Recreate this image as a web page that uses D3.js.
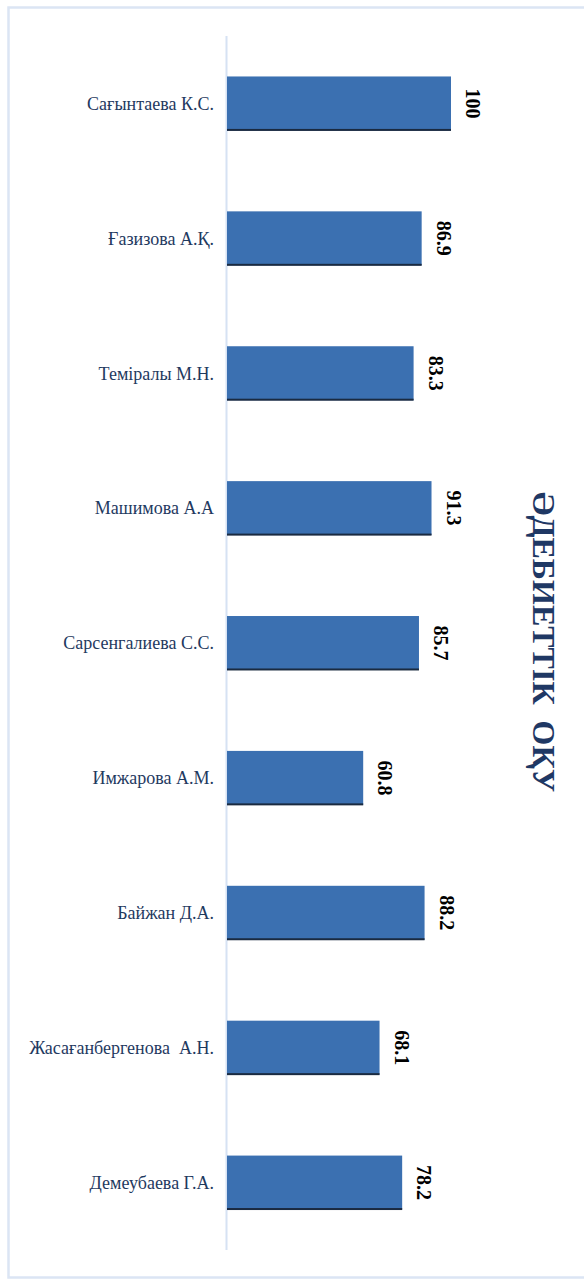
<!DOCTYPE html>
<html>
<head>
<meta charset="utf-8">
<script src="https://cdn.jsdelivr.net/npm/d3@7"></script>
<style>
  body { margin: 0; background: #fff; }
  svg { display: block; }
</style>
</head>
<body>
<svg id="chart"></svg>
<script>
// données : résultats "Әдебиеттік оқу"
const names = ["Сағынтаева К.С.", "Ғазизова А.Қ.", "Теміралы М.Н.", "Машимова А.А", "Сарсенгалиева С.С.", "Имжарова А.М.", "Байжан Д.А.", "Жасағанбергенова  А.Н.", "Демеубаева Г.А."];
const scores = [100, 86.9, 83.3, 91.3, 85.7, 60.8, 88.2, 68.1, 78.2];
const labels = ["100", "86.9", "83.3", "91.3", "85.7", "60.8", "88.2", "68.1", "78.2"];
const title = "ӘДЕБИЕТТІК  ОҚУ";

const W = 584, H = 1282;
const svg = d3.select("#chart").attr("width", W).attr("height", H);

// cadre
svg.append("rect")
  .attr("x", 8.5).attr("y", 7.5)
  .attr("width", 600).attr("height", 1270)
  .attr("fill", "#fff")
  .attr("stroke", "#dbe5f4")
  .attr("stroke-width", 2.5);

const data = names.map((n, i) => ({name: n, v: scores[i], lab: labels[i]}));

const x = d3.scaleLinear().domain([0, 100]).range([227, 451]);
const y = d3.scaleBand().domain(names).range([36, 1250]).paddingInner(0.6).paddingOuter(0.3);

// axe vertical
svg.append("line")
  .attr("x1", 226.5).attr("x2", 226.5)
  .attr("y1", 36).attr("y2", 1250)
  .attr("stroke", "#d6e2f3").attr("stroke-width", 2);

const bars = svg.append("g");

bars.selectAll("rect.bar")
  .data(data)
  .enter().append("rect")
  .attr("class", "bar")
  .attr("x", x(0))
  .attr("y", d => y(d.name))
  .attr("width", d => x(d.v) - x(0))
  .attr("height", y.bandwidth())
  .attr("fill", "#3b70b1");

// petite ombre sous chaque barre
bars.selectAll("rect.shadow")
  .data(data)
  .enter().append("rect")
  .attr("class", "shadow")
  .attr("x", x(0))
  .attr("y", d => y(d.name) + y.bandwidth() - 1.5)
  .attr("width", d => x(d.v) - x(0))
  .attr("height", 2)
  .attr("fill", "#1a2a40");

// noms
svg.append("g").selectAll("text")
  .data(data)
  .enter().append("text")
  .attr("x", 214)
  .attr("y", d => y(d.name) + y.bandwidth() / 2)
  .attr("dy", "0.35em")
  .attr("text-anchor", "end")
  .attr("font-family", "Liberation Serif, serif")
  .attr("font-size", 18)
  .attr("fill", "#1f3a5f")
  .style("white-space", "pre")
  .text(d => d.name);

// valeurs, tournées de 90°
svg.append("g").selectAll("text")
  .data(data)
  .enter().append("text")
  .attr("transform", d => `translate(${x(d.v) + 22},${y(d.name) + y.bandwidth() / 2}) rotate(90)`)
  .attr("dy", "0.35em")
  .attr("text-anchor", "middle")
  .attr("font-family", "Liberation Serif, serif")
  .attr("font-weight", "bold")
  .attr("font-size", 20)
  .attr("fill", "#000")
  .text(d => d.lab);

// titre
svg.append("text")
  .attr("transform", "translate(544,642) rotate(90)")
  .attr("dy", "0.35em")
  .attr("text-anchor", "middle")
  .attr("font-family", "Liberation Serif, serif")
  .attr("font-weight", "bold")
  .attr("font-size", 32)
  .attr("fill", "#1f3864")
  .style("white-space", "pre")
  .text(title);
</script>
</body>
</html>
